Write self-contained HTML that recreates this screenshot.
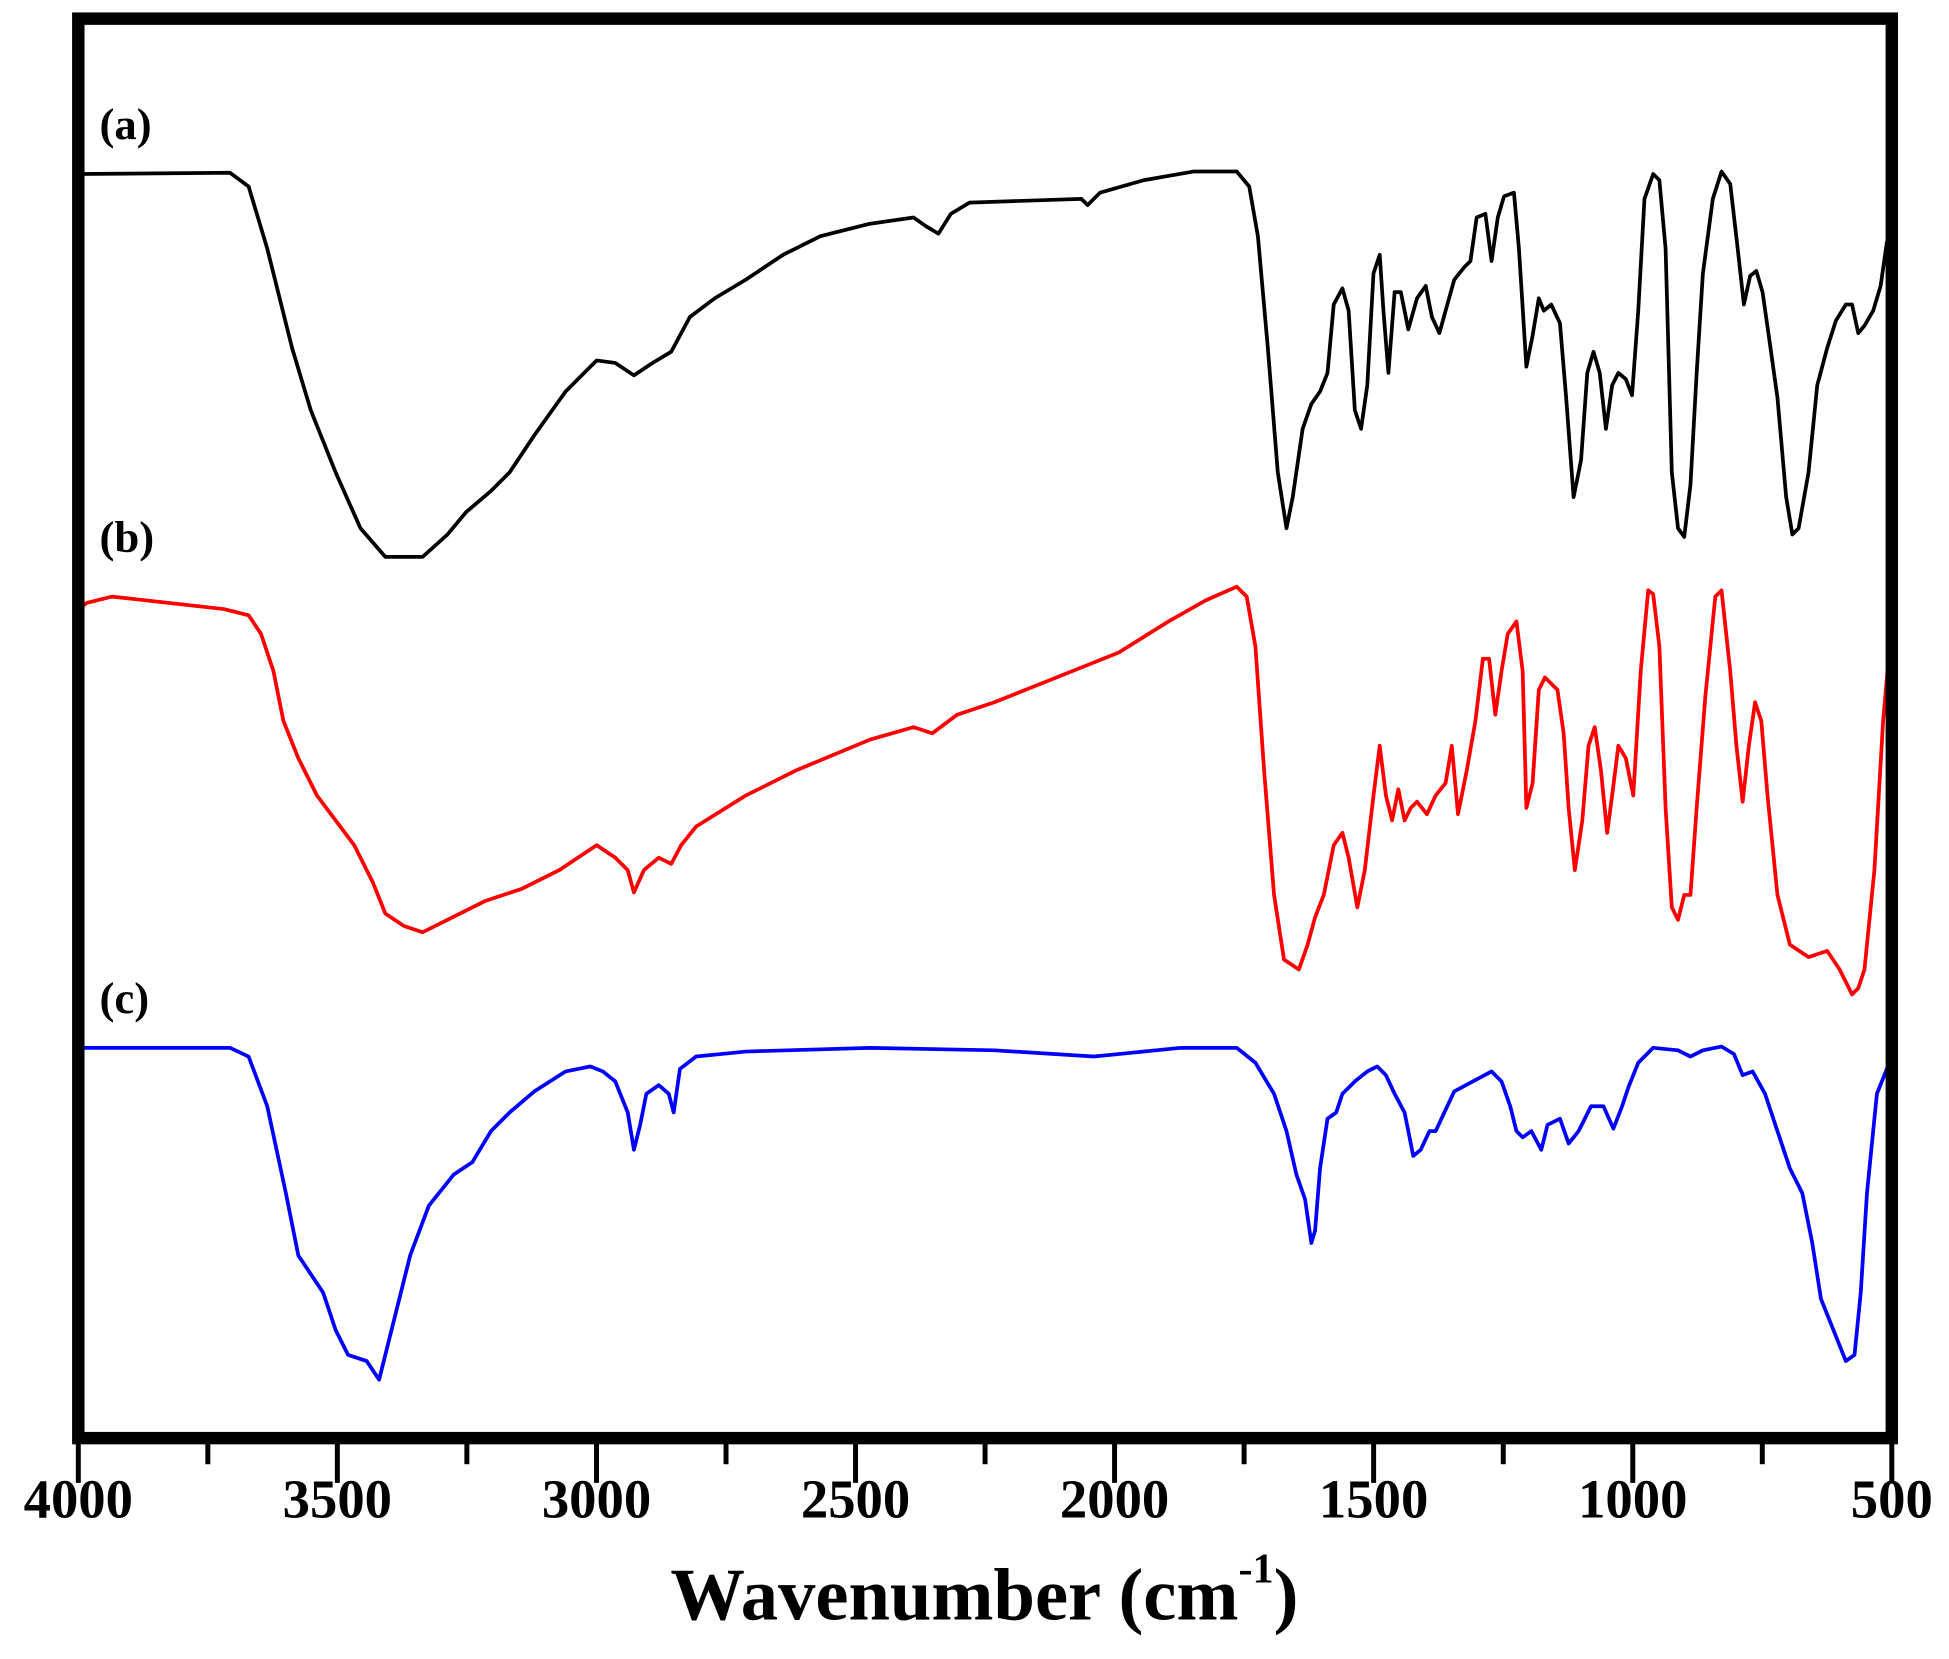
<!DOCTYPE html>
<html><head><meta charset="utf-8"><style>html,body{margin:0;padding:0;background:#fff}svg{display:block}</style></head>
<body>
<svg width="1949" height="1659" viewBox="0 0 1568 1334.7" xmlns="http://www.w3.org/2000/svg" font-family="Liberation Serif, serif" font-weight="bold">
<rect x="0" y="0" width="1568" height="1335" fill="#fff"/>
<g fill="none" stroke-width="3" stroke-linejoin="round">
<polyline stroke="#000" points="63,140 185,139 200,150 215,200 235,280 250,330 270,380 290,425 310,448 340,448 360,430 375,412 395,395 410,380 430,350 455,315 480,290 495,292 510,302 525,292 540,283 555,255 575,240 600,225 630,205 660,190 700,180 735,175 745,182 755,188 765,172 780,163 870,160 875,165 885,155 920,145 960,138 995,138 1005,150 1012,190 1020,280 1028,380 1035,425 1040,400 1048,345 1055,325 1062,315 1068,300 1073,245 1080,232 1085,250 1090,330 1095,345 1100,310 1105,220 1110,205 1113,250 1117,300 1122,235 1127,235 1133,265 1140,240 1147,230 1152,255 1158,268 1163,250 1170,225 1178,215 1183,210 1188,175 1195,172 1200,210 1205,175 1210,158 1218,155 1222,200 1228,295 1233,270 1238,240 1242,250 1248,245 1255,260 1260,320 1266,400 1272,370 1277,300 1282,283 1287,300 1292,345 1297,310 1302,300 1308,305 1313,318 1318,250 1323,160 1330,140 1335,145 1340,200 1345,380 1350,425 1355,432 1360,390 1365,300 1370,220 1378,160 1385,138 1392,148 1398,200 1403,245 1408,222 1413,218 1418,235 1423,270 1430,320 1437,400 1442,430 1447,425 1455,380 1462,310 1470,280 1477,258 1485,245 1490,245 1495,268 1500,262 1507,250 1513,230 1518,195 1522,190"/>
<polyline stroke="#f00" points="63,490 70,485 90,480 180,490 200,495 210,510 220,540 228,580 240,610 255,640 270,660 285,680 300,710 310,735 325,745 340,750 360,740 390,725 420,715 450,700 480,680 495,690 505,700 510,718 518,700 530,690 540,695 548,680 560,665 600,640 640,620 700,595 735,585 750,590 770,575 800,565 850,545 900,525 940,500 970,483 995,472 1003,480 1010,520 1017,620 1025,720 1033,772 1045,780 1052,760 1058,738 1065,720 1073,680 1080,670 1085,690 1092,730 1098,700 1105,640 1110,600 1115,640 1120,660 1125,635 1130,660 1135,650 1140,645 1148,655 1155,640 1163,630 1168,600 1173,655 1180,620 1187,580 1193,530 1198,530 1203,575 1208,540 1213,510 1220,500 1225,540 1228,650 1233,630 1238,555 1243,545 1248,550 1253,555 1258,590 1262,650 1267,700 1273,660 1278,600 1283,585 1288,620 1293,670 1297,640 1302,600 1308,610 1314,640 1320,540 1326,475 1330,478 1335,520 1340,650 1345,730 1350,740 1355,720 1360,720 1365,650 1372,560 1380,480 1385,475 1392,540 1397,600 1402,645 1407,600 1412,565 1417,580 1422,640 1430,720 1440,760 1455,770 1470,765 1480,780 1490,800 1495,795 1500,780 1508,700 1515,580 1522,500"/>
<polyline stroke="#00f" points="63,843 185,843 200,850 215,890 230,960 240,1010 250,1025 260,1040 270,1070 280,1090 295,1095 305,1110 315,1070 330,1010 345,970 365,945 380,935 395,910 410,895 430,878 455,862 475,858 485,862 495,870 505,895 510,925 515,905 520,880 530,873 538,880 542,895 547,860 560,850 600,846 700,843 800,845 880,850 910,847 950,843 995,843 1010,855 1025,880 1035,910 1043,945 1050,965 1055,1000 1058,990 1062,940 1068,900 1075,895 1080,880 1090,870 1100,862 1108,858 1115,865 1122,880 1130,895 1137,930 1143,925 1150,910 1155,910 1162,895 1170,878 1185,870 1200,862 1208,870 1215,890 1220,910 1225,915 1232,910 1240,925 1245,905 1255,900 1262,920 1270,910 1280,890 1290,890 1298,908 1305,890 1310,875 1318,855 1330,843 1350,845 1360,850 1370,845 1385,842 1395,848 1402,865 1410,862 1420,880 1430,910 1440,940 1450,960 1458,1000 1465,1045 1475,1070 1485,1095 1492,1090 1497,1040 1502,960 1510,880 1522,850"/>
</g>
<rect x="63" y="15" width="1459" height="1142" fill="none" stroke="#000" stroke-width="10"/>
<g stroke="#000" stroke-width="4">
<line x1="63" y1="1157" x2="63" y2="1193"/><line x1="271.4" y1="1157" x2="271.4" y2="1193"/><line x1="479.9" y1="1157" x2="479.9" y2="1193"/><line x1="688.3" y1="1157" x2="688.3" y2="1193"/><line x1="896.7" y1="1157" x2="896.7" y2="1193"/><line x1="1105.1" y1="1157" x2="1105.1" y2="1193"/><line x1="1313.6" y1="1157" x2="1313.6" y2="1193"/><line x1="1522" y1="1157" x2="1522" y2="1193"/>
<line x1="167.2" y1="1157" x2="167.2" y2="1178"/><line x1="375.6" y1="1157" x2="375.6" y2="1178"/><line x1="584.1" y1="1157" x2="584.1" y2="1178"/><line x1="792.5" y1="1157" x2="792.5" y2="1178"/><line x1="1000.9" y1="1157" x2="1000.9" y2="1178"/><line x1="1209.4" y1="1157" x2="1209.4" y2="1178"/><line x1="1417.8" y1="1157" x2="1417.8" y2="1178"/>
</g>
<g font-size="44" text-anchor="middle" fill="#000">
<text x="63" y="1221">4000</text><text x="271.4" y="1221">3500</text><text x="479.9" y="1221">3000</text><text x="688.3" y="1221">2500</text><text x="896.7" y="1221">2000</text><text x="1105.1" y="1221">1500</text><text x="1313.6" y="1221">1000</text><text x="1522" y="1221">500</text>
</g>
<g font-size="36" fill="#000">
<text x="80" y="112">(a)</text><text x="80" y="444">(b)</text><text x="80" y="815">(c)</text>
</g>
<text x="792" y="1303" font-size="60" text-anchor="middle" fill="#000">Wavenumber (cm<tspan font-size="34" dy="-30">-1</tspan><tspan dy="30">)</tspan></text>
</svg>
</body></html>
